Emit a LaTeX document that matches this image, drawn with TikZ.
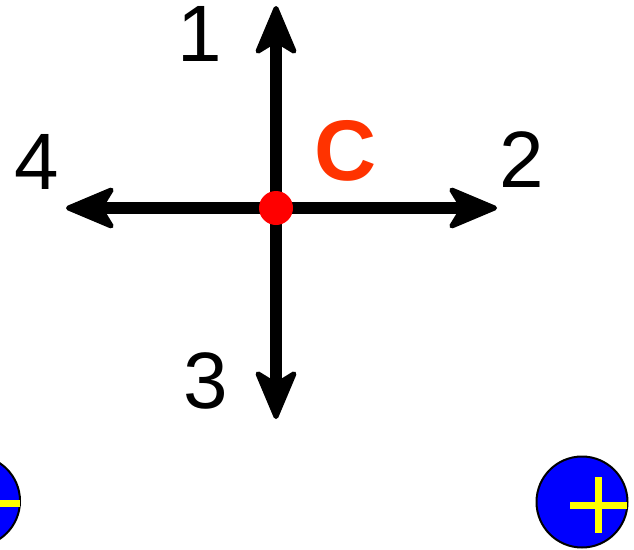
\documentclass[tikz,border=0pt]{standalone}
\usepackage{fontspec}
\setmainfont{Liberation Sans}
\usetikzlibrary{arrows.meta}
\definecolor{corange}{HTML}{FF3300}
\definecolor{cblue}{HTML}{0000FF}
\definecolor{cyellow}{HTML}{FFFF00}
\tikzset{
  axis/.style={line width=12pt, draw=black, -{Stealth[length=55pt,width=46pt,inset=14pt,round,line width=5pt]}},
  lbl/.style={inner sep=0pt, font=\fontsize{80}{80}\selectfont},
  clbl/.style={inner sep=0pt, text=corange, font=\fontsize{86}{86}\selectfont\bfseries},
  reddot/.style={circle, fill=red, inner sep=0pt, minimum size=34pt},
  charge/.style={circle, fill=cblue, draw=black, line width=2pt, inner sep=0pt, minimum size=91pt},
  bar/.style={draw=cyellow, line width=7pt}
}
\begin{document}
\begin{tikzpicture}[x=1pt,y=-1pt]
\useasboundingbox (0,0) rectangle (634,549);
\coordinate (c) at (276,208);
\coordinate (e1) at (276,6);
\coordinate (e2) at (497,208);
\coordinate (e3) at (276,419);
\coordinate (e4) at (66,208);
\draw[axis] (c) -- (e1);
\draw[axis] (c) -- (e2);
\draw[axis] (c) -- (e3);
\draw[axis] (c) -- (e4);
\node[reddot] (dot) at (c) {};
\node[lbl] (l1) at (200,34) {1};
\node[lbl] (l2) at (522,160) {2};
\node[lbl] (l3) at (206,381) {3};
\node[lbl] (l4) at (37,162) {4};
\node[clbl] (lc) at (346,151) {C};
% right charge (+)
\node[charge] (pos) at (582,502) {};
\draw[bar] (570,505) -- (627,505);
\draw[bar] (598.5,477) -- (598.5,533);
% left charge (-)
\node[charge] (neg) at (-25.5,501) {};
\draw[bar] (-38,503.5) -- (19.5,503.5);
\end{tikzpicture}
\end{document}
